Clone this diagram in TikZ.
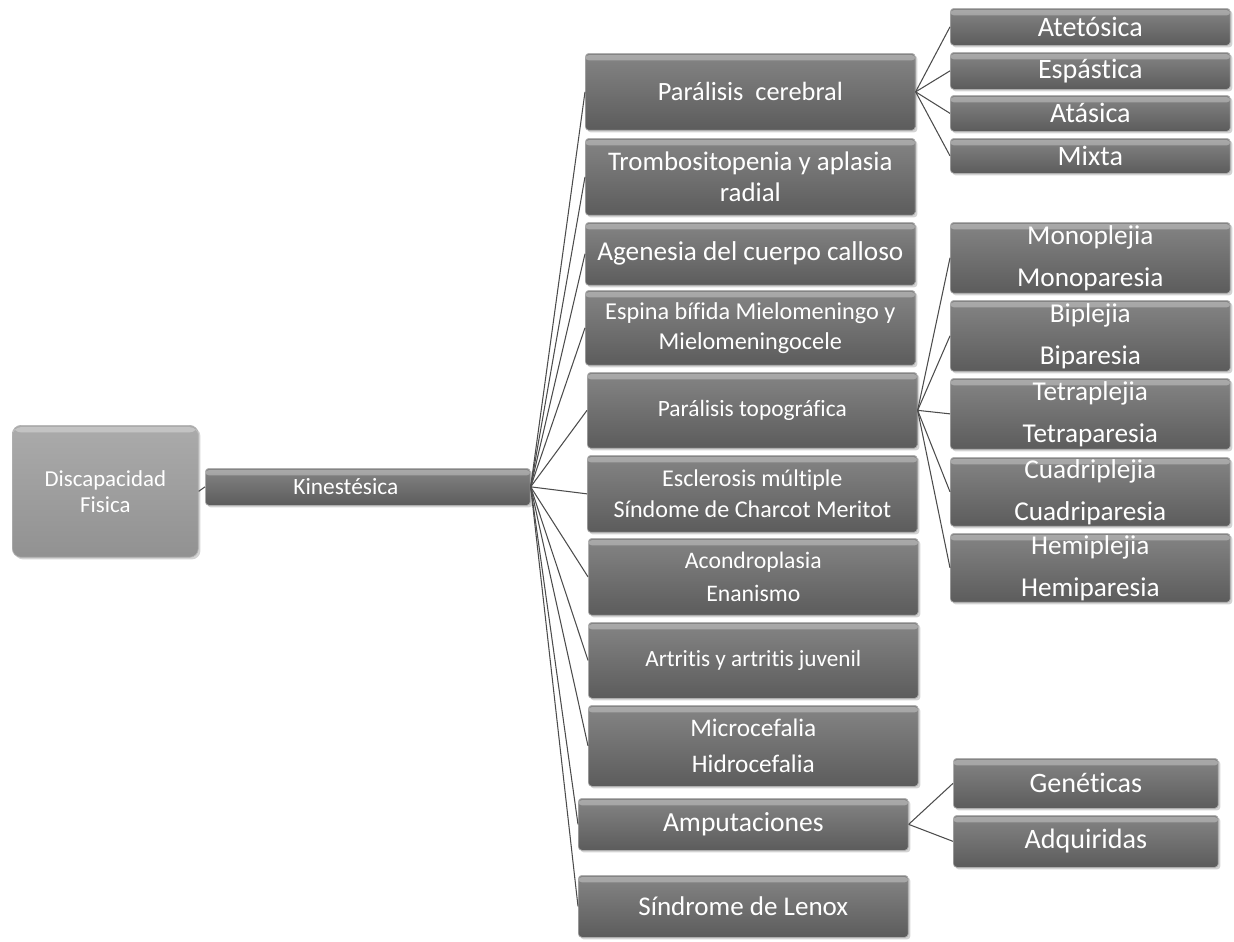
\documentclass[tikz,border=0pt]{standalone}
\usepackage{fontspec}
\setmainfont[Ligatures=NoCommon]{Carlito}
\usetikzlibrary{positioning,shadows}

\tikzset{
  box/.style={draw=black!30, top color=black!48, bottom color=black!64,
    text=white, rounded corners=2pt, inner sep=1pt, align=center,
    anchor=north west,
    drop shadow={shadow xshift=1.2pt,shadow yshift=-1.2pt,opacity=0.35},
    path picture={\fill[white,opacity=0.3]
      ([yshift=-1pt]path picture bounding box.north west) rectangle
      ([yshift=-4pt]path picture bounding box.north east);}},
  rootbox/.style={box, top color=black!33, bottom color=black!43,
    rounded corners=5pt, minimum width=3.72cm, minimum height=2.64cm},
  catbox/.style={box, minimum width=6.6cm},
  subbox/.style={box, minimum width=5.6cm},
  link/.style={draw=black!70, line width=0.6pt},
}

\begin{document}
\begin{tikzpicture}[x=0.02cm,y=-0.02cm]
	\useasboundingbox (0,0) rectangle (1234,941);

	\node[rootbox, font=\fontsize{13}{15}\selectfont] (disc) at (12,425) {Discapacidad\\Fisica};
	\node[box, minimum width=6.5cm, minimum height=0.74cm, font=\fontsize{13.3}{15}\selectfont] (kin) at (205,468) {\hspace*{-0.88cm}Kinestésica};

	% segundo nivel
	\node[catbox, minimum height=1.54cm, font=\fontsize{15}{18}\selectfont] (cer) at (585,53) {Parálisis\ \ cerebral};
	\node[catbox, minimum height=1.54cm, font=\fontsize{15.3}{18}\selectfont] (tro) at (585,138) {Trombositopenia y aplasia\\radial};
	\node[catbox, minimum height=1.26cm, font=\fontsize{15.5}{18}\selectfont] (age) at (585,222) {Agenesia del cuerpo calloso};
	\node[catbox, minimum height=1.5cm, font=\fontsize{13.8}{17}\selectfont] (esp) at (585,290) {Espina bífida Mielomeningo y\\Mielomeningocele};
	\node[catbox, minimum height=1.52cm, font=\fontsize{13.3}{16}\selectfont] (top) at (587,372) {Parálisis topográfica};
	\node[catbox, minimum height=1.54cm, font=\fontsize{13.7}{18}\selectfont] (esc) at (587,455) {Esclerosis múltiple\\Síndome de Charcot Meritot};
	\node[catbox, minimum height=1.54cm, font=\fontsize{13.5}{19}\selectfont] (aco) at (588,538) {Acondroplasia\\Enanismo};
	\node[catbox, minimum height=1.52cm, font=\fontsize{13.2}{16}\selectfont] (art) at (588,622) {Artritis y artritis juvenil};
	\node[catbox, minimum height=1.62cm, font=\fontsize{14.4}{20}\selectfont] (mic) at (588,705) {Microcefalia\\Hidrocefalia};
	\node[catbox, minimum height=1.04cm, font=\fontsize{15.7}{19}\selectfont] (amp) at (578,798) {Amputaciones};
	\node[catbox, minimum height=1.24cm, font=\fontsize{15.4}{18}\selectfont] (len) at (578,875) {Síndrome de Lenox};

	% tercer nivel
	\node[subbox, minimum height=0.74cm, font=\fontsize{16}{18}\selectfont] (ate) at (950,8) {Atetósica};
	\node[subbox, minimum height=0.74cm, font=\fontsize{16}{18}\selectfont] (spa) at (950,52) {Espástica};
	\node[subbox, minimum height=0.72cm, font=\fontsize{16}{18}\selectfont] (ata) at (950,95) {Atásica};
	\node[subbox, minimum height=0.7cm, font=\fontsize{16}{18}\selectfont] (mix) at (950,138) {Mixta};

	\node[subbox, minimum height=1.42cm, font=\fontsize{15.5}{24}\selectfont] (mon) at (950,222) {Monoplejia\\Monoparesia};
	\node[subbox, minimum height=1.42cm, font=\fontsize{15.5}{24}\selectfont] (bip) at (950,300) {Biplejia\\Biparesia};
	\node[subbox, minimum height=1.42cm, font=\fontsize{15.5}{24}\selectfont] (tet) at (950,378) {Tetraplejia\\Tetraparesia};
	\node[subbox, minimum height=1.36cm, font=\fontsize{15.5}{24}\selectfont] (cua) at (950,457) {Cuadriplejia\\Cuadriparesia};
	\node[subbox, minimum height=1.18cm, font=\fontsize{15.5}{24}\selectfont] (hem) at (950,533) {Hemiplejia\\Hemiparesia};

	\node[box, minimum width=5.3cm, minimum height=1cm, font=\fontsize{16}{18}\selectfont] (gen) at (953,758) {Genéticas};
	\node[box, minimum width=5.3cm, minimum height=1.04cm, font=\fontsize{16}{18}\selectfont] (adq) at (953,815) {Adquiridas};

	\path[link] (disc.east) edge (kin.west)
	      (kin.east) edge (cer.west)
	                 edge (tro.west)
	                 edge (age.west)
	                 edge (esp.west)
	                 edge (top.west)
	                 edge (esc.west)
	                 edge (aco.west)
	                 edge (art.west)
	                 edge (mic.west)
	                 edge (amp.west)
	                 edge (len.west)
	      (cer.east) edge (ate.west)
	                 edge (spa.west)
	                 edge (ata.west)
	                 edge (mix.west)
	      (top.east) edge (mon.west)
	                 edge (bip.west)
	                 edge (tet.west)
	                 edge (cua.west)
	                 edge (hem.west)
	      (amp.east) edge (gen.west)
	                 edge (adq.west);
\end{tikzpicture}
\end{document}
